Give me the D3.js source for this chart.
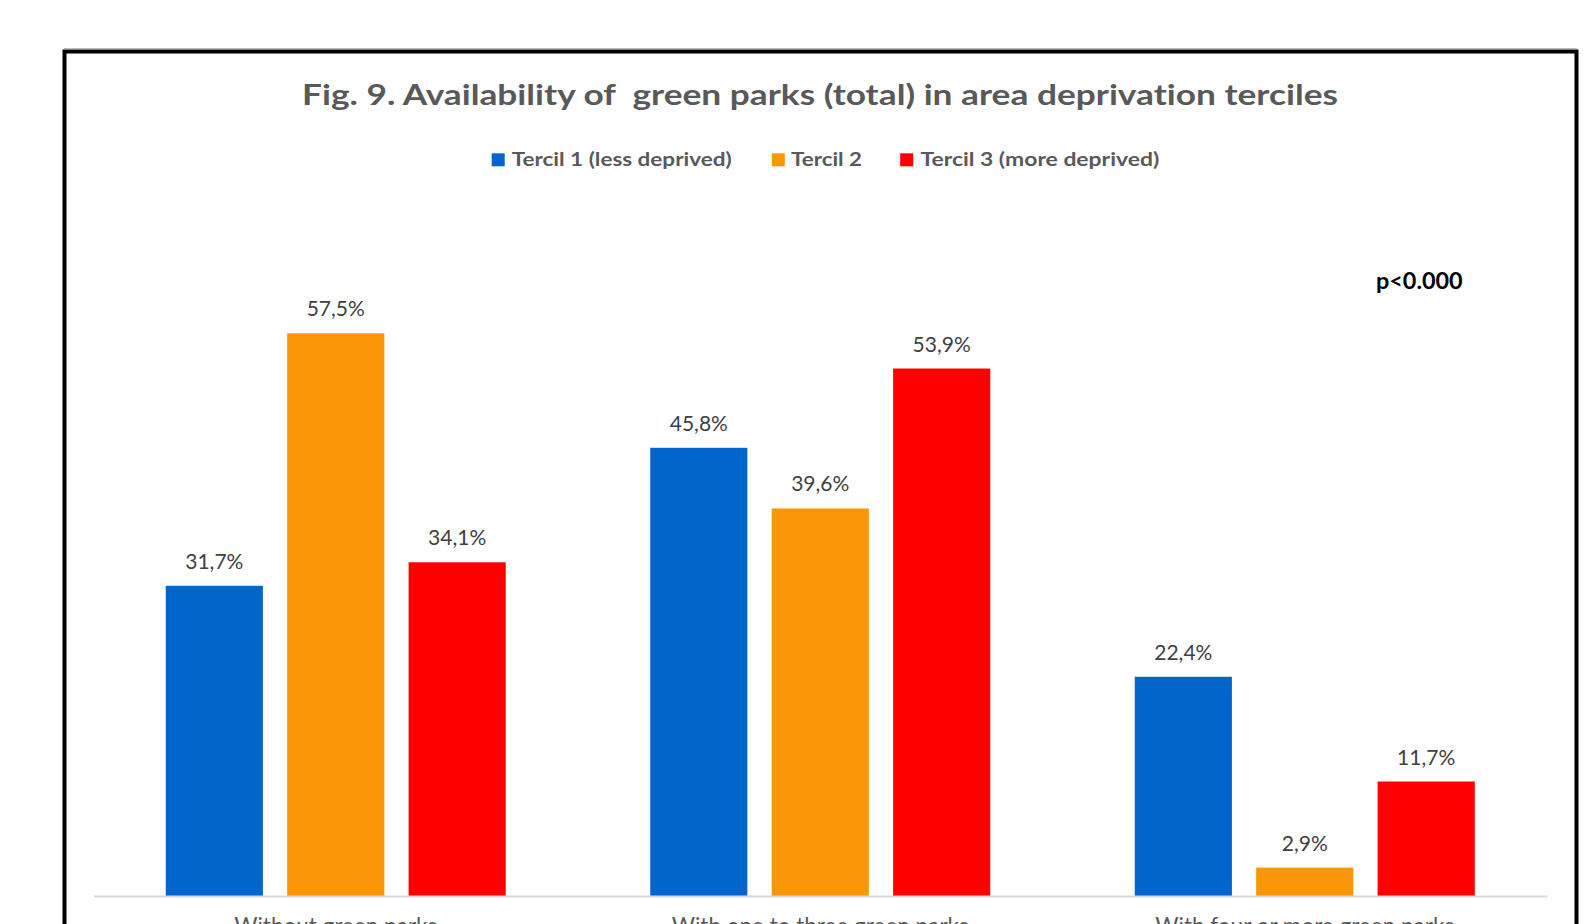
<!DOCTYPE html>
<html>
<head>
<meta charset="utf-8">
<script src="https://cdn.jsdelivr.net/npm/d3@7"></script>
<style>
  html, body { margin: 0; padding: 0; background: #fff; }
  svg { display: block; }
  text { font-family: Lato, "Open Sans", sans-serif; font-variant-ligatures: none; font-feature-settings: "liga" 0; }
</style>
</head>
<body>
<svg id="chart" width="1586" height="924"></svg>
<script>
const categories = ["Without green parks", "With one to three green parks", "With four or more green parks"];
const seriesNames = ["Tercil 1 (less deprived)", "Tercil 2", "Tercil 3 (more deprived)"];
const seriesColors = ["#0066CC", "#F99709", "#FF0000"];
const tercil1 = [31.7, 45.8, 22.4];
const tercil2 = [57.5, 39.6, 2.9];
const tercil3 = [34.1, 53.9, 11.7];
const titleText = "Fig. 9. Availability of  green parks (total) in area deprivation terciles";
const pText = "p<0.000";

const seriesValues = [tercil1, tercil2, tercil3];
const data = categories.map((c, i) => ({
  category: c,
  values: seriesNames.map((s, j) => ({ series: s, idx: j, value: seriesValues[j][i] }))
}));

const svg = d3.select("#chart");

// outer frame
svg.append("line").attr("x1", 64).attr("x2", 1577).attr("y1", 48.5).attr("y2", 48.5)
  .attr("stroke", "#bbbbbb").attr("stroke-width", 1);
svg.append("rect")
  .attr("x", 64.5).attr("y", 51.5).attr("width", 1512).attr("height", 900)
  .attr("fill", "none").attr("stroke", "#000").attr("stroke-width", 4);

const plot = { left: 93.5, right: 1547, base: 896 };

const x0 = d3.scaleBand().domain(categories).range([plot.left, plot.right]).paddingInner(0).paddingOuter(0);
const x1 = d3.scaleBand().domain(seriesNames).range([0, x0.bandwidth()]).paddingInner(0.2).paddingOuter(0.595);
const y = d3.scaleLinear().domain([0, 57.5]).range([plot.base, 333.3]);

// title
svg.append("text")
  .attr("x", 820).attr("y", 104.5)
  .attr("text-anchor", "middle")
  .attr("font-size", 28).attr("font-weight", 700)
  .attr("fill", "#595959")
  .style("white-space", "pre")
  .attr("textLength", 1036).attr("lengthAdjust", "spacingAndGlyphs")
  .text(titleText);

// legend
const legendItems = [
  { sx: 491.7, tx: 511.7, tw: 220 },
  { sx: 771.8, tx: 791, tw: 71 },
  { sx: 900.2, tx: 920.5, tw: 238.7 }
];
const lg = svg.append("g");
seriesNames.forEach((s, j) => {
  lg.append("rect").attr("x", legendItems[j].sx).attr("y", 153.3).attr("width", 13).attr("height", 13)
    .attr("fill", seriesColors[j]);
  lg.append("text").attr("x", legendItems[j].tx).attr("y", 166)
    .attr("font-size", 19.5).attr("font-weight", 700).attr("fill", "#595959")
    .attr("textLength", legendItems[j].tw).attr("lengthAdjust", "spacingAndGlyphs")
    .text(s);
});

// p-value
svg.append("text").attr("x", 1376).attr("y", 289.3)
  .attr("font-size", 23).attr("font-weight", 700).attr("fill", "#000")
  .attr("textLength", 86.7).attr("lengthAdjust", "spacingAndGlyphs")
  .text(pText);

// bars
const groups = svg.append("g").selectAll("g").data(data).join("g")
  .attr("transform", d => `translate(${x0(d.category)},0)`);

groups.selectAll("rect").data(d => d.values).join("rect")
  .attr("x", d => x1(d.series))
  .attr("y", d => y(d.value))
  .attr("width", x1.bandwidth())
  .attr("height", d => y(0) - y(d.value))
  .attr("fill", d => seriesColors[d.idx]);

const fmt = v => v.toFixed(1).replace(".", ",") + "%";
groups.selectAll("text.val").data(d => d.values).join("text")
  .attr("class", "val")
  .attr("x", d => x1(d.series) + x1.bandwidth() / 2)
  .attr("y", d => y(d.value) - 17)
  .attr("text-anchor", "middle")
  .attr("font-size", 21).attr("fill", "#404040")
  .text(d => fmt(d.value));

// category axis
const xAxis = d3.axisBottom(x0).tickSize(0).tickPadding(0);
const ax = svg.append("g").attr("transform", `translate(0,${plot.base})`).call(xAxis);
ax.select(".domain").attr("stroke", "#d9d9d9").attr("stroke-width", 2);
ax.selectAll(".tick text")
  .attr("font-family", "Lato, 'Open Sans', sans-serif")
  .attr("font-size", 22.5).attr("fill", "#595959")
  .attr("dy", 0).attr("y", 38);
</script>
</body>
</html>
